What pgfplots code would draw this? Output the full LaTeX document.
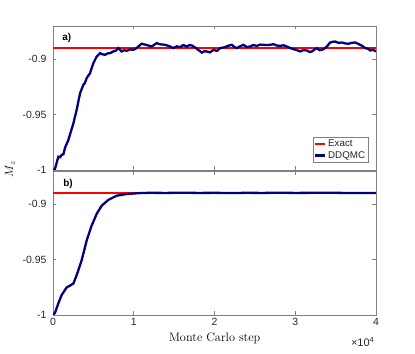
\documentclass[border=0pt]{standalone}
\usepackage{pgfplots}
\pgfplotsset{compat=1.18}
\usepackage{fontspec}
\setmainfont{Latin Modern Roman}
\newfontfamily\hel{Liberation Sans}
\definecolor{mnavy}{rgb}{0,0,0.5}
\definecolor{axgray}{gray}{0.5}
\pgfplotstableread{
x y
0 -1.0
250 -0.999
660 -0.988
870 -0.9885
1070 -0.9864
1290 -0.9858
1490 -0.980
1900 -0.9729
2520 -0.958
2930 -0.9457
3350 -0.9307
3760 -0.9231
3950 -0.9215
4170 -0.917
4590 -0.9126
5000 -0.9035
5410 -0.8976
5820 -0.8945
6100 -0.8955
6440 -0.896
6750 -0.8948
7060 -0.8945
7470 -0.893
7750 -0.8925
8090 -0.890
8510 -0.893
8800 -0.8918
9130 -0.8924
9500 -0.8912
9950 -0.8915
10250 -0.8905
10570 -0.8885
10990 -0.886
11400 -0.8868
11810 -0.8876
12230 -0.8885
12850 -0.8854
13100 -0.8862
13400 -0.8866
13880 -0.887
14400 -0.8882
14910 -0.890
15300 -0.8884
15740 -0.889
16150 -0.8872
16570 -0.8885
16900 -0.8872
17190 -0.8876
17500 -0.8890
17810 -0.8906
18100 -0.8922
18430 -0.894
18750 -0.8928
19050 -0.893
19450 -0.8938
19870 -0.8915
20300 -0.8925
20690 -0.890
21000 -0.8896
21310 -0.889
21700 -0.8878
22140 -0.887
22450 -0.8888
22760 -0.890
23200 -0.8882
23580 -0.887
24000 -0.8890
24410 -0.8885
24800 -0.8872
25240 -0.888
25650 -0.8868
26060 -0.887
26480 -0.8872
26890 -0.887
27300 -0.8864
27700 -0.8876
28130 -0.888
28550 -0.8874
28960 -0.8885
29350 -0.8898
29780 -0.8909
30200 -0.8918
30610 -0.893
31000 -0.8918
31440 -0.8921
31750 -0.8934
32060 -0.893
32400 -0.8912
32680 -0.890
33000 -0.8918
33300 -0.8915
33600 -0.8905
33920 -0.8885
34320 -0.8849
34620 -0.8843
34940 -0.884
35350 -0.8852
35770 -0.8849
36200 -0.8858
36590 -0.886
37000 -0.8852
37420 -0.8849
37700 -0.8858
38040 -0.887
38350 -0.8882
38660 -0.890
39000 -0.8905
39280 -0.8921
39650 -0.8915
40000 -0.893
}\topdata
\pgfplotstableread{
x y
0 -1.0
250 -0.998
660 -0.9895
1070 -0.982
1690 -0.9751
2100 -0.9735
2520 -0.9716
2930 -0.964
3550 -0.9506
4170 -0.9327
4790 -0.9192
5410 -0.9087
6030 -0.9013
6850 -0.8961
7890 -0.8923
9130 -0.8908
10780 -0.8899
12000 -0.8897
14000 -0.8898
16000 -0.8896
18000 -0.8898
20000 -0.8897
22000 -0.8899
24000 -0.8897
26000 -0.8898
28000 -0.8896
30000 -0.8898
32000 -0.8897
34000 -0.8896
36000 -0.8898
38000 -0.8899
40000 -0.8898
}\botdata
\pgfplotstableread{
x y
0 -0.8897
40000 -0.8897
}\exactdata
\pgfplotsset{
  mstyle/.style={
    scale only axis,
    width=323bp, height=144bp,
    xmin=0, xmax=40000, ymin=-1, ymax=-0.87,
    scaled x ticks=false, scaled y ticks=false,
    axis line style={axgray, line width=0.6pt},
    every tick/.style={axgray, line width=0.6pt},
    tick align=inside,
    major tick length=3.5bp,
    xtick={0,10000,20000,30000,40000},
    ytick={-1,-0.95,-0.9},
    yticklabels={-1,-0.95,-0.9},
    tick label style={font=\hel\fontsize{10.5}{12}\selectfont, text=black!85},
    yticklabel style={xshift=-3bp},
    clip=true,
  }
}
\begin{document}
\begin{tikzpicture}
\useasboundingbox (-53bp,-39bp) rectangle (362bp,315bp);
\begin{axis}[mstyle, at={(0bp,145bp)}, anchor=south west,
  xticklabels={},
  legend style={at={(rel axis cs:0.976,0.05)}, anchor=south east,
    draw=axgray, font=\hel\fontsize{9.8}{10.5}\selectfont,
    inner sep=1pt, row sep=-1pt, text=black!85},
  legend cell align=left,
  legend image code/.code={\draw[#1] (0bp,0bp) -- (10bp,0bp);},
]
\addplot[red, line width=2.2bp] table[x=x,y=y] {\exactdata};
\addlegendentry{Exact}
\addplot[mnavy, line width=2.3bp] table[x=x,y=y] {\topdata};
\addlegendentry{DDQMC}
\node[anchor=west, font=\hel\bfseries\fontsize{10}{11}\selectfont] at (rel axis cs:0.018,0.917) {a)};
\end{axis}
\begin{axis}[mstyle, at={(0bp,0bp)}, anchor=south west,
  xticklabels={0,1,2,3,4},
]
\addplot[red, line width=2.2bp] table[x=x,y=y] {\exactdata};
\addplot[mnavy, line width=2.3bp] table[x=x,y=y] {\botdata};
\node[anchor=west, font=\hel\bfseries\fontsize{10}{11}\selectfont] at (rel axis cs:0.021,0.91) {b)};
\end{axis}
\node[font=\fontsize{12.3}{14}\selectfont] at (161.7bp,-23bp) {Monte Carlo step};
\node[rotate=90, font=\fontsize{12}{14}\selectfont] at (-43bp,146bp) {$M_z$};
\node[anchor=base east, font=\hel\fontsize{11}{12}\selectfont, text=black!85, inner sep=0pt] at (321bp,-31.7bp) {×10\raisebox{0.75ex}{\fontsize{7.5}{8}\selectfont 4}};
\end{tikzpicture}
\end{document}
